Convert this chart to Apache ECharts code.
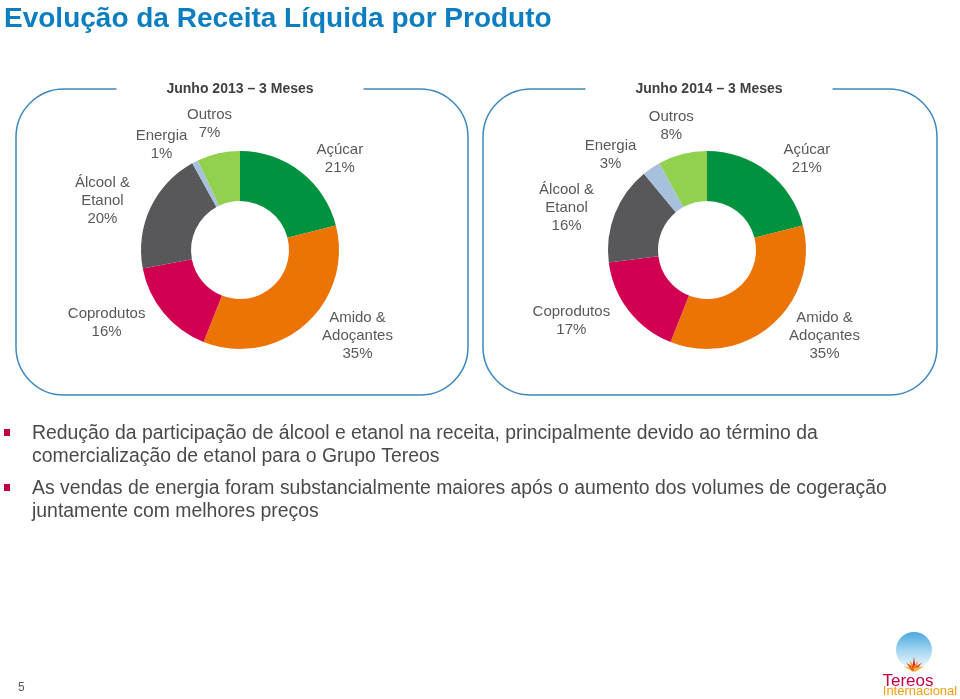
<!DOCTYPE html>
<html><head><meta charset="utf-8">
<script src="https://cdn.jsdelivr.net/npm/echarts@6/dist/echarts.min.js"></script>
<style>html,body{margin:0;padding:0;background:#fff}#main{width:960px;height:699px}</style>
</head><body><div id="main"></div>
<script>
// ---- data ----
const categories = ['Açúcar', 'Amido &\nAdoçantes', 'Coprodutos', 'Álcool &\nEtanol', 'Energia', 'Outros'];
const values2013 = [21, 35, 16, 20, 1, 7];
const values2014 = [21, 35, 17, 16, 3, 8];
const periods = ['Junho 2013 – 3 Meses', 'Junho 2014 – 3 Meses'];
const titleText = 'Evolução da Receita Líquida por Produto';
const bulletLines = [
  ['Redução da participação de álcool e etanol na receita, principalmente devido ao término da',
   'comercialização de etanol para o Grupo Tereos'],
  ['As vendas de energia foram substancialmente maiores após o aumento dos volumes de cogeração',
   'juntamente com melhores preços']
];
const pageNumber = '5';

// ---- styles ----
const FONT = '"Liberation Sans", Arial, Helvetica, sans-serif';
const colors = ['#00923f', '#ec7405', '#d20050', '#58585a', '#a7c1dc', '#92d050'];
const pieCenters = [[240, 250], [707, 250]];
const R0 = 49, R1 = 99, GAP = 16, SIDE = 6;

const chart = echarts.init(document.getElementById('main'), null, {renderer: 'canvas'});

function layoutLabel(i, vals, p) {
  let cx = pieCenters[i][0], cy = pieCenters[i][1], r = R1, m;
  try {
    const lay = chart.getModel().getSeriesByIndex(p.seriesIndex).getData().getItemLayout(p.dataIndex);
    if (lay && lay.startAngle != null) {
      m = (lay.startAngle + lay.endAngle) / 2; cx = lay.cx; cy = lay.cy; r = lay.r;
    }
  } catch (e) {}
  if (m == null) {
    const total = vals.reduce((a, b) => a + b, 0);
    let cum = 0;
    for (let k = 0; k < p.dataIndex; k++) cum += vals[k];
    m = -Math.PI / 2 + (cum + vals[p.dataIndex] / 2) / total * 2 * Math.PI;
  }
  const dx = Math.cos(m), dy = Math.sin(m);
  const w = p.labelRect.width, h = p.labelRect.height;
  const f = Math.pow(Math.min(1, 2 * Math.abs(dx)), 2);
  const x = cx + (r + GAP) * dx + Math.sign(dx) * (w / 2 + SIDE) * f;
  const y = cy + (r + GAP) * dy + dy * (h / 2) * (1 - f);
  return {x: x, y: y, align: 'center', verticalAlign: 'middle'};
}

function makeSeries(i, vals) {
  return {
    type: 'pie',
    center: pieCenters[i],
    radius: [R0, R1],
    startAngle: 90,
    clockwise: true,
    avoidLabelOverlap: false,
    silent: true,
    animation: false,
    data: categories.map((c, k) => ({name: c, value: vals[k], itemStyle: {color: colors[k]}})),
    label: {
      show: true, position: 'outside', formatter: '{b}\n{c}%',
      color: '#595959', fontSize: 15, lineHeight: 18, fontFamily: FONT
    },
    labelLine: {show: false},
    labelLayout: function (p) { return layoutLabel(i, vals, p); }
  };
}

const graphics = [];
// panels
const panels = [{x: 16, y: 89, w: 452, h: 306, tx: 240}, {x: 483, y: 89, w: 454, h: 306, tx: 709}];
panels.forEach((pn, i) => {
  graphics.push({type: 'rect', silent: true, z: 1,
    shape: {x: pn.x, y: pn.y, width: pn.w, height: pn.h, r: 48},
    style: {fill: 'none', stroke: '#3d88be', lineWidth: 1.5}});
  graphics.push({type: 'text', silent: true, z: 2, x: pn.tx, y: pn.y,
    style: {text: periods[i], font: 'bold 14px ' + FONT, fill: '#404040', align: 'center',
      verticalAlign: 'middle', backgroundColor: '#fff', padding: [3, 50]}});
});
// bullets
const bulletY = [434, 489];
bulletLines.forEach((lines, b) => {
  graphics.push({type: 'rect', silent: true, shape: {x: 4, y: bulletY[b] - 5, width: 6, height: 7},
    style: {fill: '#c0003c'}});
  lines.forEach((ln, j) => {
    graphics.push({type: 'text', silent: true, x: 32, y: bulletY[b] + j * 23,
      style: {text: ln, font: '19.4px ' + FONT, fill: '#4a4a4a', verticalAlign: 'middle'}});
  });
});
// page number
graphics.push({type: 'text', silent: true, x: 18, y: 688,
  style: {text: pageNumber, font: '12px ' + FONT, fill: '#595959', verticalAlign: 'middle'}});
// logo
graphics.push({type: 'circle', silent: true, shape: {cx: 914, cy: 650, r: 18},
  style: {fill: new echarts.graphic.LinearGradient(0, 0, 0, 1, [
    {offset: 0, color: '#4aa8de'}, {offset: 0.55, color: '#a9d8f2'}, {offset: 1, color: '#eef8fd'}])}});
const petalColors = ['#f7b32b', '#e8452b', '#f39a1c', '#d8232a', '#f39a1c', '#e8452b', '#f7b32b'];
petalColors.forEach((pc, k) => {
  const a = (-160 + k * 23.3) * Math.PI / 180;
  const bx = 914, by = 670, len = k === 3 ? 13 : 11;
  const tx = bx + Math.cos(a) * len, ty = by + Math.sin(a) * len;
  const px = -Math.sin(a) * 2, py = Math.cos(a) * 2;
  graphics.push({type: 'polygon', silent: true,
    shape: {points: [[bx + px, by + py], [tx, ty], [bx - px, by - py]]},
    style: {fill: pc}});
});
graphics.push({type: 'text', silent: true, x: 908, y: 681,
  style: {text: 'Tereos', font: '17px ' + FONT, fill: '#c5004b', align: 'center', verticalAlign: 'middle'}});
graphics.push({type: 'text', silent: true, x: 920, y: 691,
  style: {text: 'Internacional', font: '13px ' + FONT, fill: '#f0a010', align: 'center', verticalAlign: 'middle'}});

chart.setOption({
  animation: false,
  backgroundColor: '#ffffff',
  title: {
    text: titleText, left: 4, top: 5, padding: 0,
    textStyle: {fontSize: 28, fontWeight: 'bold', color: '#0b7dc1', fontFamily: FONT}
  },
  graphic: graphics,
  series: [makeSeries(0, values2013), makeSeries(1, values2014)]
});
</script></body></html>
